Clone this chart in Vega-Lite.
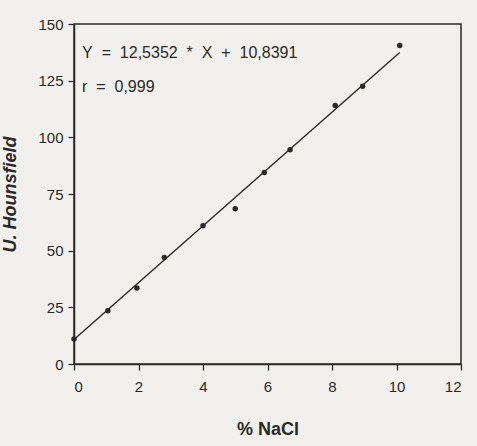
{
  "$schema": "https://vega.github.io/schema/vega-lite/v6.json",
  "width": 387,
  "height": 340,
  "autosize": {"type": "none"},
  "padding": {"left": 74, "top": 24, "right": 16, "bottom": 82},
  "background": "#f1f0ec",
  "config": {
    "font": "Liberation Sans",
    "view": {"stroke": "#2a2a2a", "strokeWidth": 1.5},
    "axis": {
      "domainColor": "#2a2a2a",
      "domainWidth": 1.5,
      "tickColor": "#2a2a2a",
      "tickWidth": 1.3,
      "tickSize": 6,
      "labelFont": "Liberation Sans",
      "labelFontSize": 15,
      "labelColor": "#2a2a2a",
      "titleFont": "Liberation Sans",
      "titleColor": "#2a2a2a",
      "grid": false
    }
  },
  "datasets": {
    "points": [
      {"nacl": 0, "hu": 11},
      {"nacl": 1.05, "hu": 23.5},
      {"nacl": 1.95, "hu": 33.5},
      {"nacl": 2.8, "hu": 47},
      {"nacl": 4.0, "hu": 61},
      {"nacl": 5.0, "hu": 68.5},
      {"nacl": 5.9, "hu": 84.5},
      {"nacl": 6.7, "hu": 94.5},
      {"nacl": 8.1, "hu": 114},
      {"nacl": 8.95, "hu": 122.5},
      {"nacl": 10.1, "hu": 140.5}
    ],
    "fit": [
      {"nacl": 0, "hu": 10.84},
      {"nacl": 10.1, "hu": 137.44}
    ],
    "notes": [
      {"nacl": 0.25, "hu": 137, "label": "Y\u00a0 =\u00a0 12,5352\u00a0 *\u00a0 X\u00a0 +\u00a0 10,8391"},
      {"nacl": 0.25, "hu": 122, "label": "r\u00a0 =\u00a0 0,999"}
    ]
  },
  "layer": [
    {
      "data": {"name": "fit"},
      "mark": {"type": "line", "color": "#2a2a2a", "strokeWidth": 1.4},
      "encoding": {
        "x": {
          "field": "nacl", "type": "quantitative",
          "scale": {"domain": [0, 12], "nice": false},
          "axis": {
            "values": [0, 2, 4, 6, 8, 10, 12],
            "title": "% NaCl",
            "titleFontSize": 18,
            "titleFontWeight": "bold",
            "titlePadding": 26,
            "labelPadding": 9
          }
        },
        "y": {
          "field": "hu", "type": "quantitative",
          "scale": {"domain": [0, 150], "nice": false},
          "axis": {
            "values": [0, 25, 50, 75, 100, 125, 150],
            "title": "U. Hounsfield",
            "titleFontSize": 18,
            "titleFontWeight": "bold",
            "titleFontStyle": "italic",
            "titlePadding": 18,
            "labelPadding": 5
          }
        }
      }
    },
    {
      "data": {"name": "points"},
      "mark": {"type": "circle", "color": "#2a2a2a", "opacity": 1, "size": 30},
      "encoding": {
        "x": {"field": "nacl", "type": "quantitative"},
        "y": {"field": "hu", "type": "quantitative"}
      }
    },
    {
      "data": {"name": "notes"},
      "mark": {"type": "text", "align": "left", "baseline": "middle", "fontSize": 16, "color": "#2a2a2a", "font": "Liberation Sans"},
      "encoding": {
        "x": {"field": "nacl", "type": "quantitative"},
        "y": {"field": "hu", "type": "quantitative"},
        "text": {"field": "label"}
      }
    }
  ]
}
